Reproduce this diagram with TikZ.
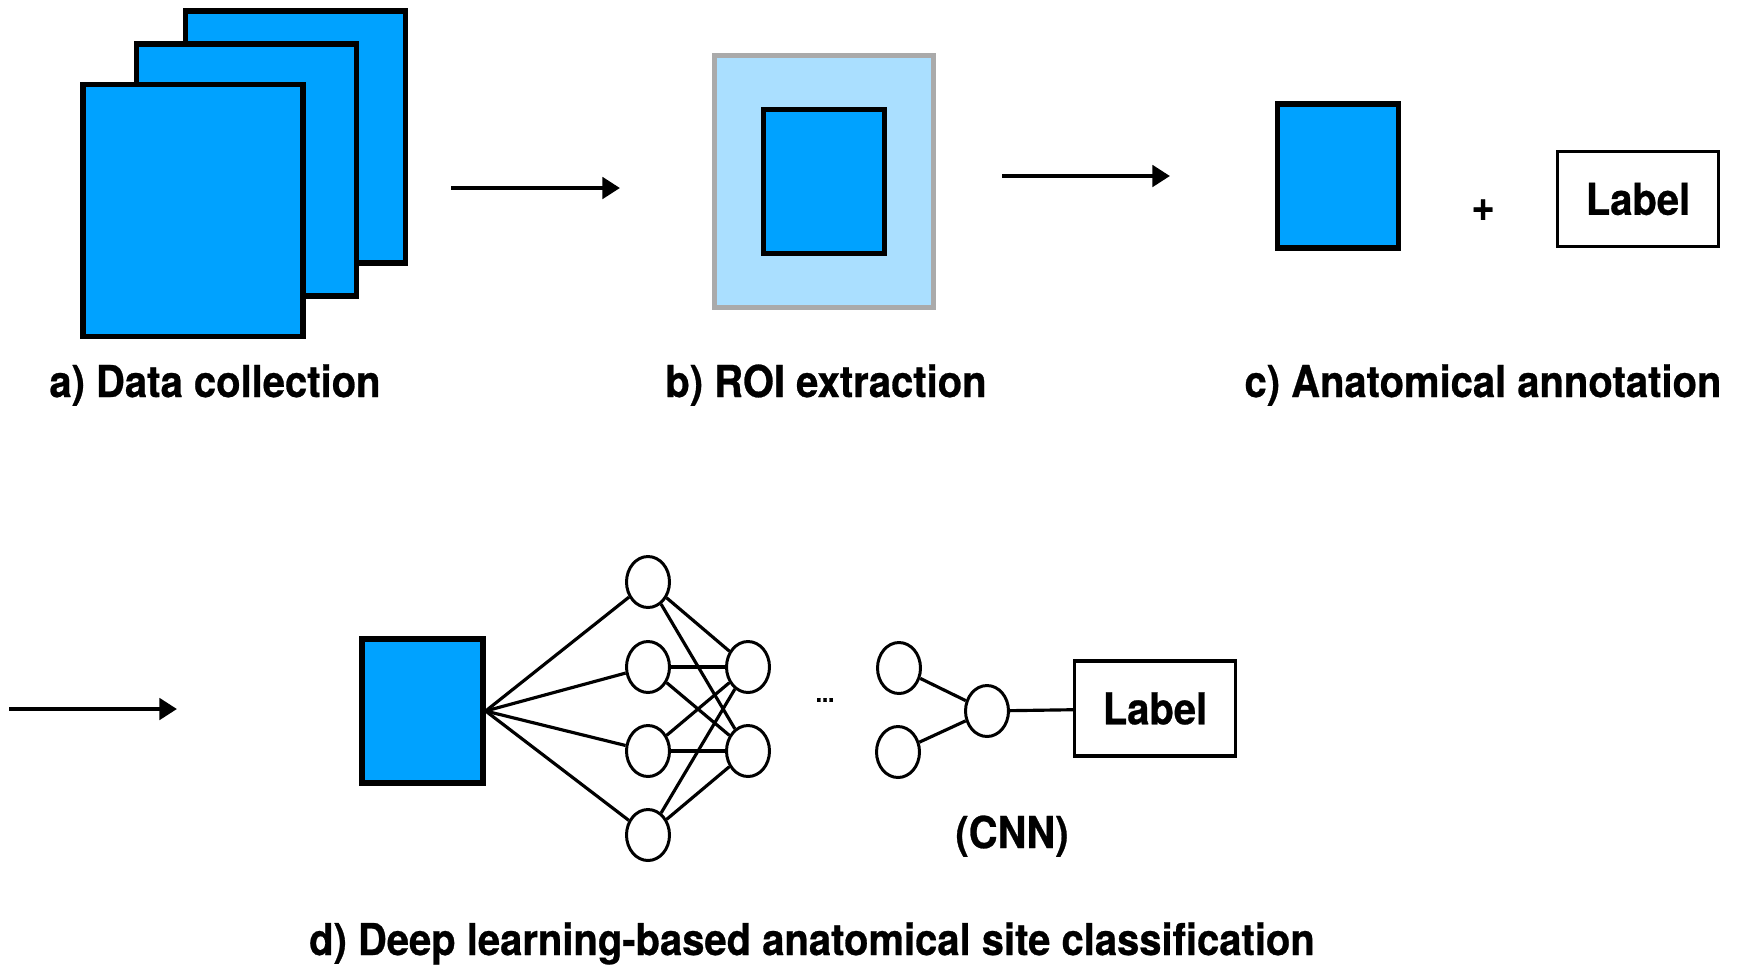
\documentclass[tikz,border=0pt]{standalone}
\usepackage{fontspec}
\setmainfont{TeX Gyre Heros}[FakeStretch=0.91, FakeBold=0.6]
\usetikzlibrary{arrows.meta,shapes.geometric}
\definecolor{imgblue}{RGB}{0,162,255}
\definecolor{roiblue}{RGB}{170,223,255}
\definecolor{roigray}{RGB}{170,170,170}

\begin{document}
\begin{tikzpicture}[x=0.02cm, y=-0.02cm,
    every node/.style={font=\fontsize{25}{30}\selectfont\bfseries},
    frame/.style={draw, line width=3pt, fill=imgblue, minimum width=4.4cm, minimum height=5.04cm, inner sep=0},
    patch/.style={draw, line width=3pt, fill=imgblue, minimum width=2.42cm, minimum height=2.88cm, inner sep=0},
    labelbox/.style={draw, line width=1.9pt, fill=white, minimum width=3.22cm, minimum height=1.9cm, inner sep=0},
    neuron/.style={draw, ellipse, line width=1.7pt, fill=white, minimum width=0.86cm, minimum height=1.02cm, inner sep=0},
    link/.style={line width=1.8pt},
    flow/.style={-{Triangle[length=10pt, width=12pt]}, line width=2.7pt},
    caption/.style={anchor=base}]
    \useasboundingbox (0,0) rectangle (1737,965);

    % a) data collection
    \node[frame] (back) at (295.5,137) {};
    \node[frame] (mid) at (246.5,170) {};
    \node[frame] (front) at (193,210.5) {};
    \node[caption] (capa) at (215,397) {a) Data collection};

    \coordinate (a1s) at (451,188);
    \coordinate (a1e) at (620,188);
    \draw[flow] (a1s) -- (a1e);

    % b) ROI extraction
    \node[draw=roigray, fill=roiblue, line width=3pt, minimum width=4.38cm, minimum height=5.04cm, inner sep=0] (roi) at (824,181.5) {};
    \node[patch] (crop) at (roi) {};
    \node[caption] (capb) at (826,397) {b) ROI extraction};

    \coordinate (a2s) at (1002,176);
    \coordinate (a2e) at (1170,176);
    \draw[flow] (a2s) -- (a2e);

    % c) annotation
    \node[patch] (sample) at (1338,176) {};
    \node (plus) at (1483,210) {+};
    \node[labelbox] (tag) at (1638,199) {Label};
    \node[caption] (capc) at (1483,397) {c) Anatomical annotation};

    % d) classification
    \coordinate (a3s) at (9,709);
    \coordinate (a3e) at (177,709);
    \draw[flow] (a3s) -- (a3e);

    \node[patch] (input) at (422.5,711) {};
    \foreach \i/\y in {1/582,2/667,3/751,4/835}
        \node[neuron] (h1\i) at (648,\y) {};
    \foreach \i/\y in {1/667,2/751}
        \node[neuron] (h2\i) at (748,\y) {};
    \node[font=\fontsize{14}{16}\selectfont\bfseries] (dots) at (825,700) {...};
    \node[neuron] (h31) at (899,668) {};
    \node[neuron] (h32) at (898,752) {};
    \node[neuron] (out) at (987,711) {};
    \node[labelbox] (result) at (1155,708.5) {Label};
    \node[caption] (cnn) at (1012,848) {(CNN)};

    \foreach \i in {1,...,4}
        \draw[link] (input.east) -- (h1\i);
    \foreach \i in {1,...,4}
        \foreach \j in {1,2}
            \draw[link] (h1\i) -- (h2\j);
    \draw[link] (h31) -- (out);
    \draw[link] (h32) -- (out);
    \draw[link] (out) -- (result);

    \node[caption] (capd) at (812,955) {d) Deep learning-based anatomical site classification};
\end{tikzpicture}
\end{document}
